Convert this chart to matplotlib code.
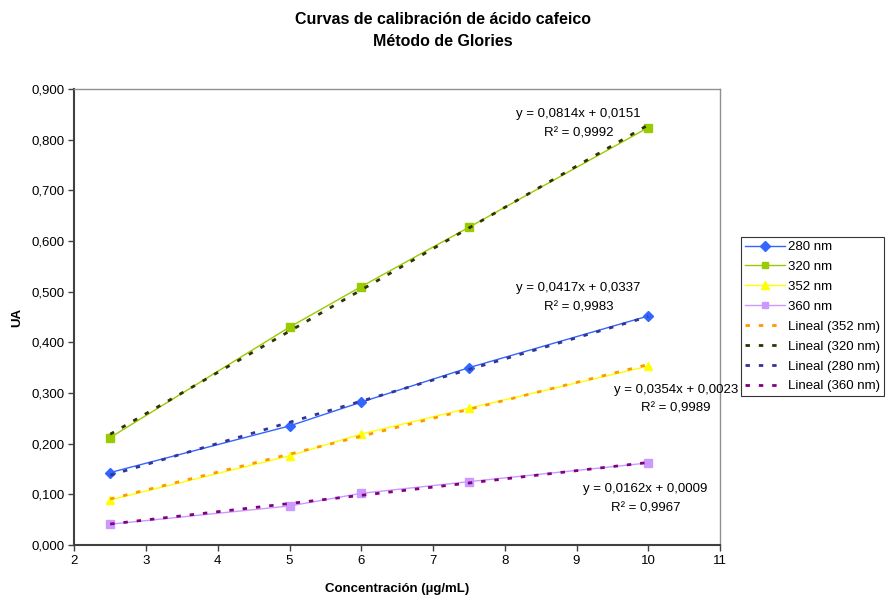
import numpy as np
import matplotlib
matplotlib.use("Agg")
import matplotlib.pyplot as plt
from matplotlib.ticker import FuncFormatter, MultipleLocator

plt.rcParams['font.family'] = ['Liberation Sans', 'DejaVu Sans']

# Concentrations (µg/mL) and absorbances per wavelength
conc = [2.5, 5, 6, 7.5, 10]
abs_280 = [0.143, 0.235, 0.282, 0.350, 0.452]
abs_320 = [0.212, 0.430, 0.510, 0.627, 0.824]
abs_352 = [0.089, 0.176, 0.219, 0.270, 0.353]
abs_360 = [0.041, 0.077, 0.102, 0.125, 0.162]

# Linear fits (slope, intercept, R²)
fit_280 = (0.0417, 0.0337, 0.9983)
fit_320 = (0.0814, 0.0151, 0.9992)
fit_352 = (0.0354, 0.0023, 0.9989)
fit_360 = (0.0162, 0.0009, 0.9967)

W, H = 886, 596
fig = plt.figure(figsize=(W / 100, H / 100), dpi=100)
ax = fig.add_axes([74.3 / W, 1 - 545 / H, (720 - 74.3) / W, (545 - 89) / H])

series = [
    ("280 nm", abs_280, "#3366FF", "D", 5.2),
    ("320 nm", abs_320, "#99CC00", "s", 5.5),
    ("352 nm", abs_352, "#FFFF00", "^", 6.0),
    ("360 nm", abs_360, "#CC99FF", "s", 5.5),
]
handles = {}
for name, vals, col, mk, ms in series:
    h, = ax.plot(conc, vals, color=col, lw=1.0, marker=mk, ms=ms,
                 mec=col, mfc=col, label=name, zorder=3)
    handles[name] = h

trends = [
    ("Lineal (352 nm)", fit_352, "#FF9900"),
    ("Lineal (320 nm)", fit_320, "#333300"),
    ("Lineal (280 nm)", fit_280, "#333399"),
    ("Lineal (360 nm)", fit_360, "#800080"),
]
xs = np.array([min(conc), max(conc)])
for name, (m, b, r2), col in trends:
    h, = ax.plot(xs, m * xs + b, color=col, lw=2.0, linestyle=(0, (1.6, 3.2)),
                 label=name, zorder=4)
    handles[name] = h


def dec(v, n):
    return f"{v:.{n}f}".replace(".", ",")


def eq_label(fit, x, y1, y2):
    m, b, r2 = fit
    ax.text(x, y1, f"y = {dec(m, 4)}x + {dec(b, 4)}", ha="center", va="center",
            fontsize=9.5, color="black", zorder=5)
    ax.text(x, y2, f"R² = {dec(r2, 4)}", ha="center", va="center",
            fontsize=9.5, color="black", zorder=5)


eq_label(fit_320, 9.03, 0.851, 0.812)
eq_label(fit_280, 9.03, 0.508, 0.469)
eq_label(fit_352, 10.39, 0.306, 0.270)
eq_label(fit_360, 9.96, 0.110, 0.073)

ax.set_xlim(2, 11)
ax.set_ylim(0, 0.9)
ax.xaxis.set_major_locator(MultipleLocator(1))
ax.yaxis.set_major_locator(MultipleLocator(0.1))
ax.yaxis.set_major_formatter(FuncFormatter(lambda v, p: dec(v, 3)))
ax.tick_params(direction="out", length=4, width=1, labelsize=9.5, pad=3,
               color="#404040")
for s in ("left", "bottom"):
    ax.spines[s].set_color("#404040")
    ax.spines[s].set_linewidth(1.5)
for s in ("top", "right"):
    ax.spines[s].set_color("#909090")
    ax.spines[s].set_linewidth(1.0)

ax.set_xlabel("Concentración (µg/mL)", fontsize=9.5, fontweight="bold", labelpad=12)
ax.set_ylabel("UA", fontsize=9.5, fontweight="bold", labelpad=6)

fig.text(443 / W, 1 - 20 / H, "Curvas de calibración de ácido cafeico",
         ha="center", va="center", fontsize=11.5, fontweight="bold")
fig.text(443 / W, 1 - 41 / H, "Método de Glories",
         ha="center", va="center", fontsize=11.5, fontweight="bold")

order = ["280 nm", "320 nm", "352 nm", "360 nm",
         "Lineal (352 nm)", "Lineal (320 nm)", "Lineal (280 nm)", "Lineal (360 nm)"]
leg = fig.legend([handles[k] for k in order], order, loc="upper left",
                 bbox_to_anchor=(741 / W, 1 - 237 / H), borderaxespad=0,
                 fontsize=9.5, frameon=True, fancybox=False, edgecolor="black",
                 handlelength=3.0, handletextpad=0.3, labelspacing=0.58,
                 borderpad=0.3, markerscale=0.9)
leg.get_frame().set_linewidth(0.8)

fig.savefig("out.png", dpi=100)
